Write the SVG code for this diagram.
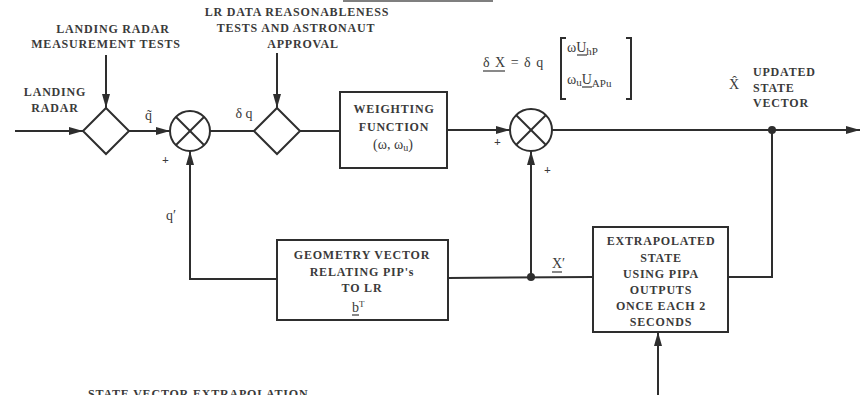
<svg xmlns="http://www.w3.org/2000/svg" width="864" height="395" viewBox="0 0 864 395">
<defs>
<marker id="ah" markerUnits="userSpaceOnUse" markerWidth="14" markerHeight="8" refX="14" refY="4" orient="auto">
<path d="M0,0 L14,4 L0,8 z" fill="#2e2e2e"/>
</marker>
<style>
.ln{fill:none;stroke:#2e2e2e;stroke-width:2}
.sh{fill:#fff;stroke:#2e2e2e;stroke-width:2}
.t{font-family:"Liberation Serif","DejaVu Serif",serif;font-weight:bold;font-size:12px;fill:#3a3a3a;letter-spacing:0.8px}
.c{text-anchor:middle}
.m{font-family:"Liberation Serif","DejaVu Serif",serif;font-size:14px;fill:#3a3a3a}
.u{stroke:#3a3a3a;stroke-width:1.2}
</style>
</defs>
<rect width="864" height="395" fill="#fff"/>
<line x1="343" y1="1" x2="493" y2="1" stroke="#555" stroke-width="1.5"/>

<g id="connectors">
<line class="ln" x1="15" y1="131" x2="83" y2="131" marker-end="url(#ah)"/>
<line class="ln" x1="106" y1="55" x2="106" y2="108" marker-end="url(#ah)"/>
<line class="ln" x1="129" y1="131" x2="170" y2="131" marker-end="url(#ah)"/>
<line class="ln" x1="210" y1="131" x2="254" y2="131"/>
<line class="ln" x1="277" y1="53" x2="277" y2="108" marker-end="url(#ah)"/>
<line class="ln" x1="300" y1="131" x2="340" y2="131"/>
<line class="ln" x1="447" y1="130" x2="510" y2="130" marker-end="url(#ah)"/>
<line class="ln" x1="552" y1="130" x2="860" y2="130" marker-end="url(#ah)"/>
<polyline class="ln" points="772,130 772,277 728,277"/>
<line class="ln" x1="593" y1="277" x2="448" y2="278"/>
<line class="ln" x1="531" y1="277" x2="531" y2="151" marker-end="url(#ah)"/>
<polyline class="ln" points="277,279 190,279 190,151" marker-end="url(#ah)"/>
<line class="ln" x1="658" y1="395" x2="658" y2="332" marker-end="url(#ah)"/>
<circle cx="772" cy="130" r="4" fill="#2e2e2e"/>
<circle cx="531" cy="277" r="4" fill="#2e2e2e"/>
</g>

<g id="landing-radar-input">
<text class="t c" x="55" y="96">LANDING</text>
<text class="t c" x="55" y="112">RADAR</text>
</g>

<g id="lr-tests-label">
<text class="t c" x="113" y="33">LANDING RADAR</text>
<text class="t c" x="106" y="48">MEASUREMENT TESTS</text>
</g>

<g id="diamond1">
<polygon class="sh" points="106,108 129,131 106,154 83,131"/>
</g>

<g id="sum1">
<circle class="sh" cx="190" cy="131" r="20"/>
<line class="ln" x1="176" y1="117" x2="204" y2="145"/>
<line class="ln" x1="204" y1="117" x2="176" y2="145"/>
<text class="m" x="145" y="120">q̃</text>
<text class="t" x="162" y="164">+</text>
<text class="m" x="166" y="220">q′</text>
</g>

<g id="reasonableness-label">
<text class="t c" x="297" y="16">LR DATA REASONABLENESS</text>
<text class="t c" x="296" y="32">TESTS AND ASTRONAUT</text>
<text class="t c" x="303" y="48">APPROVAL</text>
</g>

<g id="diamond2">
<polygon class="sh" points="277,108 300,131 277,154 254,131"/>
<text class="m c" x="244" y="118">δ q</text>
</g>

<g id="weighting">
<rect class="sh" x="340" y="92" width="107" height="76"/>
<text class="t c" x="394" y="113">WEIGHTING</text>
<text class="t c" x="394" y="131">FUNCTION</text>
<text class="m c" x="393" y="149">(ω,  ω<tspan font-size="10" dy="2">u</tspan><tspan dy="-2">)</tspan></text>
</g>

<g id="sum2">
<circle class="sh" cx="531" cy="130" r="21"/>
<line class="ln" x1="516" y1="115" x2="546" y2="145"/>
<line class="ln" x1="546" y1="115" x2="516" y2="145"/>
<text class="t" x="494" y="146">+</text>
<text class="t" x="544" y="174">+</text>
</g>

<g id="formula">
<text class="m" x="483" y="67" letter-spacing="1">δ X  =  δ q</text>
<line class="u" x1="483" y1="71" x2="505" y2="71"/>
<polyline class="ln" points="566,38 561,38 561,99 566,99" stroke-width="1.8"/>
<polyline class="ln" points="626,38 631,38 631,99 626,99" stroke-width="1.8"/>
<text class="m" x="567" y="52">ωU<tspan font-size="11" dy="3">hP</tspan></text>
<line class="u" x1="577" y1="55" x2="587" y2="55"/>
<text class="m" x="567" y="84">ω<tspan font-size="11" dy="2">u</tspan><tspan dy="-2">U</tspan><tspan font-size="11" dy="3">APu</tspan></text>
<line class="u" x1="582" y1="87" x2="592" y2="87"/>
</g>

<g id="updated-state">
<text class="m" x="729" y="89">X̂</text>
<text class="t" x="753" y="76">UPDATED</text>
<text class="t" x="753" y="92">STATE</text>
<text class="t" x="753" y="107">VECTOR</text>
</g>

<g id="geometry">
<rect class="sh" x="277" y="240" width="171" height="80"/>
<text class="t c" x="362" y="259">GEOMETRY VECTOR</text>
<text class="t c" x="362" y="276">RELATING PIP's</text>
<text class="t c" x="362" y="292">TO LR</text>
<text class="m" x="352" y="312" font-size="13">b<tspan font-size="9" dy="-5">T</tspan></text>
<line class="u" x1="352" y1="315" x2="359" y2="315"/>
</g>

<g id="x-prime">
<text class="m" x="552" y="268">X′</text>
<line class="u" x1="552" y1="272" x2="562" y2="272"/>
</g>

<g id="extrapolated">
<rect class="sh" x="593" y="227" width="135" height="105"/>
<text class="t c" x="661" y="245">EXTRAPOLATED</text>
<text class="t c" x="661" y="262">STATE</text>
<text class="t c" x="661" y="278">USING PIPA</text>
<text class="t c" x="661" y="294">OUTPUTS</text>
<text class="t c" x="661" y="310">ONCE EACH 2</text>
<text class="t c" x="661" y="326">SECONDS</text>
</g>

<g id="caption">
<text class="t" x="88" y="398" font-weight="normal">STATE VECTOR EXTRAPOLATION</text>
</g>
</svg>
